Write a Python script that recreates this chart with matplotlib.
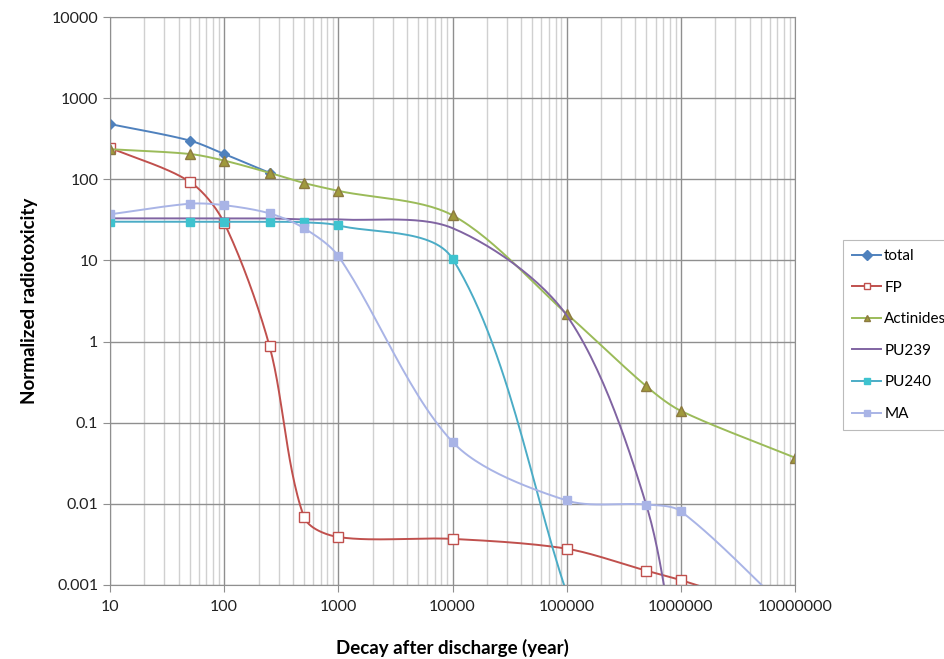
"""Normalized radiotoxicity vs decay time after discharge."""
import matplotlib
matplotlib.use('Agg')
import matplotlib.pyplot as plt
import matplotlib.ticker as mticker
import numpy as np

plt.rcParams['font.family'] = ['Lato', 'DejaVu Sans']

# Data
total_x = [10, 50, 100, 250]
total_y = [480, 300, 205, 120]

fp_x = [10, 50, 100, 250, 500, 1000, 1e4, 1e5, 5e5, 1e6, 1e7]
fp_y = [245, 93, 29, 0.87, 0.0069, 0.0039, 0.0037, 0.0028, 0.0015, 0.00115, 0.0004]

act_x = [10, 50, 100, 250, 500, 1000, 1e4, 1e5, 5e5, 1e6, 1e7]
act_y = [235, 205, 170, 120, 90, 72, 36, 2.2, 0.28, 0.14, 0.037]

pu239_x = [10, 50, 100, 250, 500, 1000, 1e4, 1e5, 5e5, 1e6]
pu239_y = [33, 33, 33, 33, 32, 32, 25, 2.1, 0.0095, 0.00005]

pu240_x = [10, 50, 100, 250, 500, 1000, 1e4, 1e5]
pu240_y = [30, 30, 30, 30, 29.5, 27, 10.5, 0.0008]

ma_x = [10, 50, 100, 250, 500, 1000, 1e4, 1e5, 5e5, 1e6, 1e7]
ma_y = [37, 50, 48, 38, 25, 11.3, 0.058, 0.011, 0.0098, 0.0081, 0.0004]

x_ticks = [10, 100, 1000, 1e4, 1e5, 1e6, 1e7]
y_ticks = [0.001, 0.01, 0.1, 1, 10, 100, 1000, 10000]

N_SEG = 30
PX_DEC_X, PX_DEC_Y = 114.2, 81.1   # screen pixels per decade


def smooth(xs, ys, n=N_SEG, k=0.3):
    """Excel-like smoothed line, bezier built in screen (log-log) space."""
    pts = np.column_stack([np.log10(xs) * PX_DEC_X, np.log10(ys) * PX_DEC_Y])
    m = len(pts)
    dirs = []
    for i in range(m):
        a = pts[max(i - 1, 0)]
        b = pts[min(i + 1, m - 1)]
        d = b - a
        dirs.append(d / np.hypot(*d))
    out = [pts[0]]
    t = np.linspace(0, 1, n)[1:, None]
    for i in range(m - 1):
        p1, p2 = pts[i], pts[i + 1]
        L = np.hypot(*(p2 - p1))
        c1 = p1 + dirs[i] * L * k
        c2 = p2 - dirs[i + 1] * L * k
        seg = ((1 - t)**3 * p1 + 3 * (1 - t)**2 * t * c1
               + 3 * (1 - t) * t**2 * c2 + t**3 * p2)
        out.extend(seg)
    out = np.array(out)
    return 10**(out[:, 0] / PX_DEC_X), 10**(out[:, 1] / PX_DEC_Y)


fig = plt.figure(figsize=(9.45, 6.59), dpi=100)
ax = fig.add_axes([0.1164, 0.1123, 0.7249, 0.8619])

series = [
    ('total', total_x, total_y, dict(color='#4F81BD', marker='D', ms=5,
                                     mfc='#4F81BD', mec='#4F81BD')),
    ('FP', fp_x, fp_y, dict(color='#C0504D', marker='s', ms=7,
                            mfc='white', mec='#C0504D', mew=1.0)),
    ('Actinides', act_x, act_y, dict(color='#9BBB59', marker='^', ms=7,
                                     mfc='#A09A3C', mec='#8C7A40')),
    ('PU239', pu239_x, pu239_y, dict(color='#8064A2', marker=None)),
    ('PU240', pu240_x, pu240_y, dict(color='#4BACC6', marker='s', ms=6,
                                     mfc='#3EC3CF', mec='#3EC3CF')),
    ('MA', ma_x, ma_y, dict(color='#A9B4E6', marker='s', ms=6,
                            mfc='#A9B4E6', mec='#A9B4E6')),
]

for label, xs, ys, style in series:
    sx, sy = smooth(xs, ys)
    every = list(range(0, len(sx), N_SEG - 1))
    ax.plot(sx, sy, lw=1.4, markevery=every, label=label, **style)

ax.set_xscale('log')
ax.set_yscale('log')
ax.set_xlim(10, 1e7)
ax.set_ylim(0.001, 10000)

fmt = mticker.FuncFormatter(lambda v, _: np.format_float_positional(v, trim='-'))
ax.xaxis.set_major_locator(mticker.FixedLocator(x_ticks))
ax.yaxis.set_major_locator(mticker.FixedLocator(y_ticks))
ax.xaxis.set_major_formatter(fmt)
ax.yaxis.set_major_formatter(fmt)
x_minor = [d * s for d in x_ticks[:-1] for s in range(2, 10)]
ax.xaxis.set_minor_locator(mticker.FixedLocator(x_minor))
ax.xaxis.set_minor_formatter(mticker.NullFormatter())
ax.yaxis.set_minor_locator(mticker.NullLocator())

ax.grid(which='major', color='#8f8f8f', lw=1.0)
ax.grid(which='minor', axis='x', color='#d0d0d0', lw=1.0)
ax.set_axisbelow(True)
for s in ax.spines.values():
    s.set_color('#8f8f8f')
ax.tick_params(which='major', length=5, color='#8f8f8f', labelsize=11.5, labelcolor='#222222')
ax.tick_params(which='minor', length=0)
ax.tick_params(axis='x', pad=6)

ax.set_xlabel('Decay after discharge (year)', fontsize=13.5, fontweight='bold', labelpad=18)
ax.set_ylabel('Normalized radiotoxicity', fontsize=13.5, fontweight='bold', labelpad=10)

leg = ax.legend(loc='center left', bbox_to_anchor=(0.892, 0.4917),
                bbox_transform=fig.transFigure, fontsize=11, labelspacing=1.15,
                handlelength=1.9, handletextpad=0.2, borderpad=0.6,
                borderaxespad=0, fancybox=False, edgecolor='#bbbbbb', framealpha=1)
leg.get_frame().set_linewidth(0.8)
for h in leg.legend_handles:
    h.set_markersize(5)

fig.savefig('out.png', dpi=100)
